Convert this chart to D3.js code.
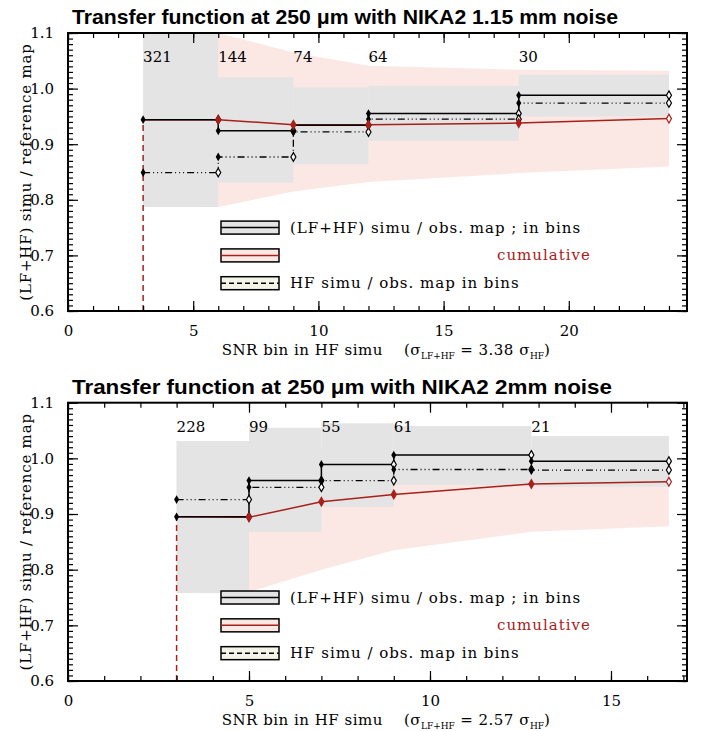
<!DOCTYPE html>
<html>
<head>
<meta charset="utf-8">
<script src="https://cdn.jsdelivr.net/npm/d3@7"></script>
<style>
  body { margin: 0; background: #fff; }
  text { font-family: "DejaVu Serif", serif; }
</style>
</head>
<body>
<svg id="chart"></svg>
<script>
// ---- top panel : NIKA2 1.15 mm noise ----
const edgesA = [3, 6, 9, 12, 18, 24];
const countsA = [321, 144, 74, 64, 30];
const binAllA = [0.944, 0.924, 0.934, 0.955, 0.988];
const binHfA = [0.849, 0.877, 0.922, 0.945, 0.974];
const binLoA = [0.787, 0.831, 0.864, 0.906, 0.950];
const binHiA = [1.15, 1.020, 1.002, 1.005, 1.025];
const cumA = [0.944, 0.944, 0.935, 0.935, 0.938, 0.946];
const cumLoA = [0.787, 0.787, 0.815, 0.832, 0.848, 0.860];
const cumHiA = [1.15, 1.10, 1.065, 1.041, 1.034, 1.032];

// ---- bottom panel : NIKA2 2 mm noise ----
const edgesB = [3, 5, 7, 9, 12.8, 16.6];
const countsB = [228, 99, 55, 61, 21];
const binAllB = [0.895, 0.960, 0.989, 1.006, 0.995];
const binHfB = [0.926, 0.948, 0.960, 0.980, 0.979];
const binLoB = [0.758, 0.868, 0.913, 0.952, 0.949];
const binHiB = [1.031, 1.055, 1.063, 1.058, 1.040];
const cumB = [0.895, 0.894, 0.922, 0.935, 0.954, 0.958];
const cumLoB = [0.758, 0.760, 0.800, 0.835, 0.868, 0.878];
const cumHiB = [1.031, 1.03, 1.02, 1.00, 0.99, 0.98];

const yTicks = [0.6, 0.7, 0.8, 0.9, 1.0, 1.1];
const legendLabels = ["(LF+HF) simu / obs. map ; in bins", "cumulative", "HF simu / obs. map in bins"];

const W = 711, H = 731;
const left = 68, right = 687;
const grey = "#e4e4e4", pink = "#fbe8e4", red = "#a8201a", cream = "#f3f4e6";
const dashDot = "7,3,1,3,1,3,1,3";

const svg = d3.select("#chart").attr("width", W).attr("height", H);

function drawPanel(p) {
    const x = d3.scaleLinear().domain([0, p.xmax]).range([left, right]);
    const y = d3.scaleLinear().domain([0.6, 1.1]).range([p.bottom, p.top]);
    const g = svg.append("g");

    g.append("clipPath").attr("id", p.id)
        .append("rect")
        .attr("x", left).attr("y", p.top)
        .attr("width", right - left).attr("height", p.bottom - p.top);
    const plot = g.append("g").attr("clip-path", "url(#" + p.id + ")");

    // cumulative envelope
    const band = d3.area()
        .x((d, i) => x(p.edges[i]))
        .y0((d, i) => y(p.cumLo[i]))
        .y1((d, i) => y(p.cumHi[i]));
    plot.append("path").datum(p.cum).attr("d", band).attr("fill", pink);

    // per-bin envelopes
    plot.selectAll("rect.bin").data(p.hi).join("rect")
        .attr("class", "bin")
        .attr("x", (d, i) => x(p.edges[i]))
        .attr("width", (d, i) => x(p.edges[i + 1]) - x(p.edges[i]))
        .attr("y", d => y(d))
        .attr("height", (d, i) => y(p.lo[i]) - y(d))
        .attr("fill", grey);

    // red dashed drop line at first edge
    plot.append("line")
        .attr("x1", x(p.edges[0])).attr("x2", x(p.edges[0]))
        .attr("y1", y(0.6)).attr("y2", y(p.cum[0]))
        .attr("stroke", red).attr("stroke-width", 1.5)
        .attr("stroke-dasharray", "6,4");

    // cumulative line
    const line = d3.line().x(d => x(d[0])).y(d => y(d[1]));
    plot.append("path")
        .datum(p.edges.map((e, i) => [e, p.cum[i]]))
        .attr("d", line).attr("fill", "none")
        .attr("stroke", red).attr("stroke-width", 1.5);

    const steps = vals => {
        const pts = [];
        vals.forEach((v, i) => { pts.push([p.edges[i], v]); pts.push([p.edges[i + 1], v]); });
        return pts;
    };
    plot.append("path").datum(steps(p.hf)).attr("d", line)
        .attr("fill", "none").attr("stroke", "#000").attr("stroke-width", 1.3)
        .attr("stroke-dasharray", dashDot);
    plot.append("path").datum(steps(p.all)).attr("d", line)
        .attr("fill", "none").attr("stroke", "#000").attr("stroke-width", 1.5);

    // diamond markers : filled at bin start, open at bin end
    const diamond = d3.symbol().type(d3.symbolDiamond).size(22);
    [p.all, p.hf].forEach(vals => {
        vals.forEach((v, i) => {
            plot.append("path").attr("d", diamond)
                .attr("transform", "translate(" + x(p.edges[i]) + "," + y(v) + ")")
                .attr("fill", "#000");
            plot.append("path").attr("d", diamond)
                .attr("transform", "translate(" + x(p.edges[i + 1]) + "," + y(v) + ")")
                .attr("fill", "#fff").attr("stroke", "#000").attr("stroke-width", 1.2);
        });
    });
    p.cum.forEach((v, i) => {
        if (i === 0) return;
        const last = i === p.cum.length - 1;
        plot.append("path").attr("d", diamond)
            .attr("transform", "translate(" + x(p.edges[i]) + "," + y(v) + ")")
            .attr("fill", last ? "#fff" : red)
            .attr("stroke", red).attr("stroke-width", 1.2);
    });

    // source counts per bin
    g.selectAll("text.count").data(p.counts).join("text")
        .attr("class", "count")
        .attr("x", (d, i) => x(p.edges[i]))
        .attr("y", y(1.048))
        .style("font-size", "15px")
        .text(d => d);

    // axes, IDL style: inward ticks on all four sides
    const xMinor = d3.range(0, Math.floor(p.xmax) + 1, 1);
    const xMajor = d3.range(0, p.xmax, 5);
    const yMinor = d3.range(60, 111, 1).map(v => v / 100);

    const axes = [
        [d3.axisBottom(x), "translate(0," + p.bottom + ")", xMajor, xMinor, true, false],
        [d3.axisTop(x), "translate(0," + p.top + ")", xMajor, xMinor, false, false],
        [d3.axisLeft(y), "translate(" + left + ",0)", yTicks, yMinor, true, true],
        [d3.axisRight(y), "translate(" + right + ",0)", yTicks, yMinor, false, true]
    ];
    axes.forEach(([ax, tr, major, minor, labels, isY]) => {
        const gm = g.append("g").attr("transform", tr)
            .call(ax.tickValues(minor).tickSize(-5).tickFormat(""));
        gm.select(".domain").remove();
        const gM = g.append("g").attr("transform", tr)
            .call(ax.tickValues(major).tickSize(-10).tickPadding(labels ? 14 : 0)
                .tickFormat(labels ? (isY ? d3.format(".1f") : d3.format("d")) : ""));
        gM.select(".domain").remove();
        gM.selectAll("text").style("font-size", "15px").attr("fill", "#000");
        gM.selectAll("line").attr("stroke", "#000");
        gm.selectAll("line").attr("stroke", "#000");
    });
    g.selectAll(".tick line").attr("stroke-width", 1.2);

    g.append("rect")
        .attr("x", left).attr("y", p.top)
        .attr("width", right - left).attr("height", p.bottom - p.top)
        .attr("fill", "none").attr("stroke", "#000").attr("stroke-width", 2);

    // legend
    const lx = 221, lw = 58, lh = 13;
    const rows = [
        { v: 0.75, fill: grey, stroke: "#000", dash: null, label: legendLabels[0], tx: 290, col: "#000" },
        { v: 0.70, fill: pink, stroke: red, dash: null, label: legendLabels[1], tx: 497, col: red },
        { v: 0.65, fill: cream, stroke: "#000", dash: "5,3", label: legendLabels[2], tx: 290, col: "#000" }
    ];
    rows.forEach(r => {
        const cy = y(r.v);
        g.append("rect").attr("x", lx).attr("y", cy - lh / 2)
            .attr("width", lw).attr("height", lh)
            .attr("fill", r.fill).attr("stroke", "#000").attr("stroke-width", 1.5);
        g.append("line").attr("x1", lx).attr("x2", lx + lw)
            .attr("y1", cy).attr("y2", cy)
            .attr("stroke", r.stroke).attr("stroke-width", 1.5)
            .attr("stroke-dasharray", r.dash);
        g.append("text").attr("x", r.tx).attr("y", cy + 5)
            .style("font-size", "15px").style("letter-spacing", "1px")
            .attr("fill", r.col)
            .text(r.label);
    });

    // titles and axis labels
    g.append("text")
        .attr("x", p.titleX).attr("y", p.top - 9)
        .attr("text-anchor", "middle")
        .attr("textLength", p.titleW).attr("lengthAdjust", "spacingAndGlyphs")
        .style("font-family", "'Liberation Sans', Arial, sans-serif")
        .style("font-weight", "bold").style("font-size", "21px")
        .text(p.title);

    g.append("text")
        .attr("transform", "translate(31," + ((p.top + p.bottom) / 2) + ") rotate(-90)")
        .attr("text-anchor", "middle")
        .style("font-size", "15px").style("letter-spacing", "0.8px")
        .text("(LF+HF) simu / reference map");

    const xl = g.append("text")
        .attr("x", 386).attr("y", p.bottom + 44)
        .attr("text-anchor", "middle")
        .style("font-size", "15px").style("letter-spacing", "0.5px");
    xl.append("tspan").text("SNR bin in HF simu\u00a0\u00a0\u00a0\u00a0(\u03c3");
    xl.append("tspan").attr("dy", 4).style("font-size", "9px").style("letter-spacing", "0px").text("LF+HF");
    xl.append("tspan").attr("dy", -4).text("\u00a0=\u00a0" + p.ratio + "\u00a0\u03c3");
    xl.append("tspan").attr("dy", 4).style("font-size", "9px").style("letter-spacing", "0px").text("HF");
    xl.append("tspan").attr("dy", -4).text(")");
}

drawPanel({
    id: "clipA", top: 33, bottom: 311, xmax: 24.72,
    edges: edgesA, counts: countsA, all: binAllA, hf: binHfA,
    lo: binLoA, hi: binHiA, cum: cumA, cumLo: cumLoA, cumHi: cumHiA,
    title: "Transfer function at 250 \u03bcm with NIKA2 1.15 mm noise", ratio: "3.38",
    titleX: 345, titleW: 546
});
drawPanel({
    id: "clipB", top: 402.7, bottom: 681, xmax: 17.1,
    edges: edgesB, counts: countsB, all: binAllB, hf: binHfB,
    lo: binLoB, hi: binHiB, cum: cumB, cumLo: cumLoB, cumHi: cumHiB,
    title: "Transfer function at 250 \u03bcm with NIKA2 2mm noise", ratio: "2.57",
    titleX: 342, titleW: 540
});
</script>
</body>
</html>
